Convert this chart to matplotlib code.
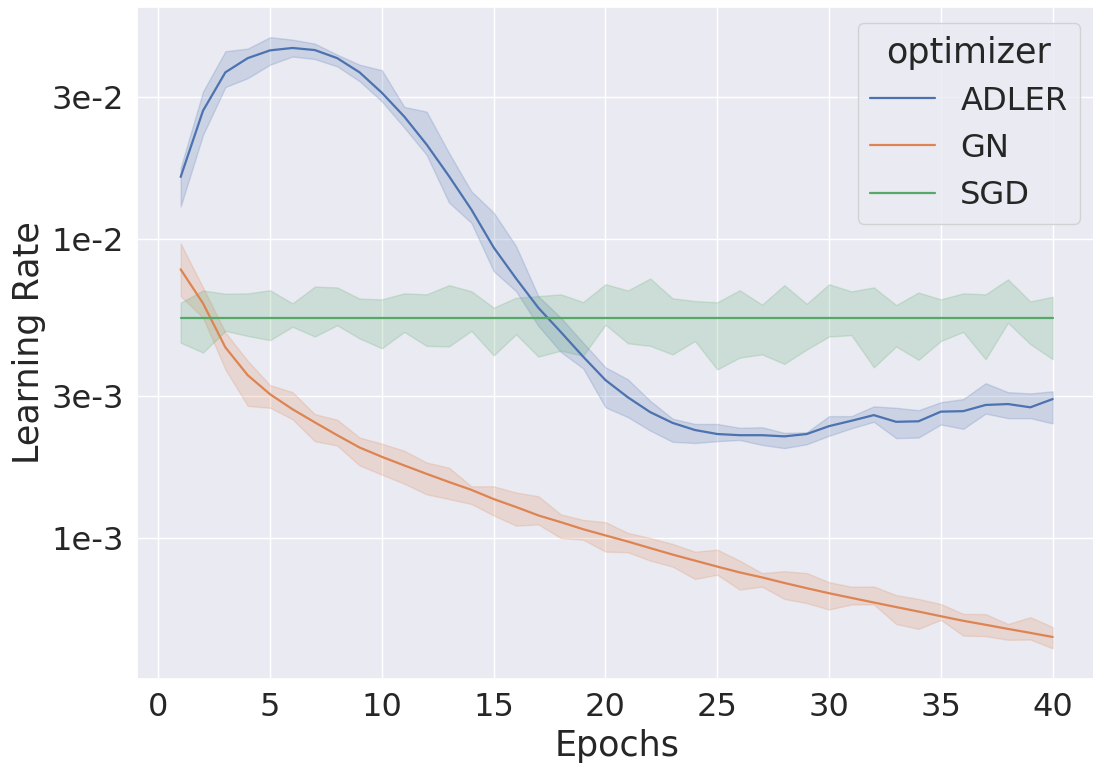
import numpy as np
import matplotlib
matplotlib.use("Agg")
import matplotlib.pyplot as plt
import seaborn as sns
from matplotlib.ticker import FixedLocator, FixedFormatter, NullLocator

epochs = np.arange(1, 41)

adler_mean = [0.0162, 0.0270, 0.0363, 0.0405, 0.0430, 0.0438, 0.0431, 0.0405, 0.0363, 0.0310,
              0.0258, 0.0208, 0.0163, 0.0126, 0.0094, 0.0074, 0.0059, 0.00490, 0.00405, 0.00338,
              0.00296, 0.00264, 0.00243, 0.00230, 0.00223, 0.00221, 0.00221, 0.00219, 0.00223, 0.00237,
              0.00247, 0.00258, 0.00245, 0.00246, 0.00265, 0.00266, 0.00279, 0.00281, 0.00274, 0.00292]
adler_hi = [0.0174, 0.0313, 0.0427, 0.0436, 0.0476, 0.0467, 0.0453, 0.0416, 0.0385, 0.0369,
            0.0278, 0.0268, 0.0195, 0.0145, 0.0123, 0.0095, 0.00645, 0.00547, 0.00451, 0.00373,
            0.00340, 0.00288, 0.00251, 0.00241, 0.00241, 0.00234, 0.00235, 0.00225, 0.00226, 0.00256,
            0.00256, 0.00276, 0.00273, 0.00268, 0.00285, 0.00292, 0.00330, 0.00308, 0.00305, 0.00310]
adler_lo = [0.0129, 0.0224, 0.0324, 0.0347, 0.0385, 0.0410, 0.0402, 0.0380, 0.0339, 0.0290,
            0.0237, 0.0192, 0.0133, 0.01137, 0.00783, 0.00671, 0.00513, 0.00420, 0.00370, 0.00274,
            0.00254, 0.00229, 0.00210, 0.00208, 0.00211, 0.00213, 0.00205, 0.00200, 0.00206, 0.00220,
            0.00233, 0.00245, 0.00216, 0.00217, 0.00240, 0.00232, 0.00261, 0.00252, 0.00252, 0.00242]

gn_mean = [0.00794, 0.00611, 0.00435, 0.00351, 0.00303, 0.00270, 0.00244, 0.00221, 0.00201, 0.00187,
           0.00175, 0.00164, 0.00154, 0.00145, 0.00135, 0.00127, 0.00119, 0.00113, 0.00107, 0.00102,
           0.000973, 0.000925, 0.000880, 0.000840, 0.000802, 0.000767, 0.000738, 0.000707, 0.000679, 0.000653,
           0.000630, 0.000608, 0.000587, 0.000567, 0.000547, 0.000528, 0.000512, 0.000496, 0.000481, 0.000466]
gn_hi = [0.00970, 0.00690, 0.00488, 0.00392, 0.00325, 0.00308, 0.00260, 0.00249, 0.00217, 0.00207,
         0.00196, 0.00179, 0.00172, 0.00149, 0.00149, 0.00142, 0.00138, 0.00120, 0.00115, 0.00113,
         0.00104, 0.00100, 0.000955, 0.000900, 0.000914, 0.000840, 0.000763, 0.000774, 0.000763, 0.000711,
         0.000687, 0.000688, 0.000644, 0.000625, 0.000601, 0.000557, 0.000556, 0.000515, 0.000543, 0.000503]
gn_lo = [0.00646, 0.00547, 0.00367, 0.00277, 0.00273, 0.00250, 0.00211, 0.00204, 0.00175, 0.00163,
         0.00152, 0.00140, 0.00135, 0.00130, 0.00119, 0.00110, 0.00111, 0.00100, 0.000987, 0.000900,
         0.000896, 0.000840, 0.000802, 0.000729, 0.000753, 0.000672, 0.000687, 0.000625, 0.000605, 0.000576,
         0.000599, 0.000599, 0.000515, 0.000496, 0.000532, 0.000471, 0.000469, 0.000456, 0.000457, 0.000427]

sgd_mean = [0.00545, 0.00545, 0.00545, 0.00545, 0.00545, 0.00545, 0.00545, 0.00545, 0.00545, 0.00545,
            0.00545, 0.00545, 0.00545, 0.00545, 0.00545, 0.00545, 0.00545, 0.00545, 0.00545, 0.00545,
            0.00545, 0.00545, 0.00545, 0.00545, 0.00545, 0.00545, 0.00545, 0.00545, 0.00545, 0.00545,
            0.00545, 0.00545, 0.00545, 0.00545, 0.00545, 0.00545, 0.00545, 0.00545, 0.00545, 0.00545]
sgd_hi = [0.00614, 0.00675, 0.00658, 0.00660, 0.00676, 0.00611, 0.00695, 0.00691, 0.00634, 0.00630,
          0.00660, 0.00655, 0.00703, 0.00671, 0.00591, 0.00638, 0.00646, 0.00655, 0.00617, 0.00708,
          0.00675, 0.00740, 0.00635, 0.00622, 0.00616, 0.00676, 0.00605, 0.00703, 0.00609, 0.00708,
          0.00670, 0.00691, 0.00603, 0.00664, 0.00630, 0.00660, 0.00655, 0.00735, 0.00620, 0.00643]
sgd_lo = [0.00451, 0.00418, 0.00494, 0.00475, 0.00460, 0.00510, 0.00473, 0.00516, 0.00466, 0.00432,
          0.00490, 0.00440, 0.00438, 0.00494, 0.00409, 0.00481, 0.00405, 0.00424, 0.00408, 0.00518,
          0.00449, 0.00440, 0.00412, 0.00457, 0.00367, 0.00402, 0.00412, 0.00383, 0.00428, 0.00473,
          0.00478, 0.00373, 0.00438, 0.00395, 0.00457, 0.00490, 0.00397, 0.00526, 0.00446, 0.00397]

optimizers = ["ADLER", "GN", "SGD"]
series = {
    "ADLER": (adler_mean, adler_lo, adler_hi),
    "GN": (gn_mean, gn_lo, gn_hi),
    "SGD": (sgd_mean, sgd_lo, sgd_hi),
}
ytick_vals = [1e-3, 3e-3, 1e-2, 3e-2]
ytick_labels = ["1e-3", "3e-3", "1e-2", "3e-2"]

sns.set_theme(style="darkgrid", font_scale=2.1)
colors = sns.color_palette("deep")

fig = plt.figure(figsize=(10.93, 7.65), dpi=100)
ax = fig.add_axes([0.1254, 0.1124, 0.8776, 0.8788])

for i, name in enumerate(optimizers):
    m, lo, hi = series[name]
    ax.fill_between(epochs, lo, hi, color=colors[i], alpha=0.2)
    ax.plot(epochs, m, color=colors[i], lw=1.6, label=name)

ax.set_yscale("log")
ax.set_xlim(-0.95, 41.95)
ax.set_ylim(3.37e-4, 0.0602)
ax.yaxis.set_major_locator(FixedLocator(ytick_vals))
ax.yaxis.set_major_formatter(FixedFormatter(ytick_labels))
ax.yaxis.set_minor_locator(NullLocator())
ax.set_xticks([0, 5, 10, 15, 20, 25, 30, 35, 40])
ax.set_xlabel("Epochs")
ax.set_ylabel("Learning Rate")
ax.legend(title="optimizer", loc="upper right")

fig.savefig("out.png", dpi=100)
